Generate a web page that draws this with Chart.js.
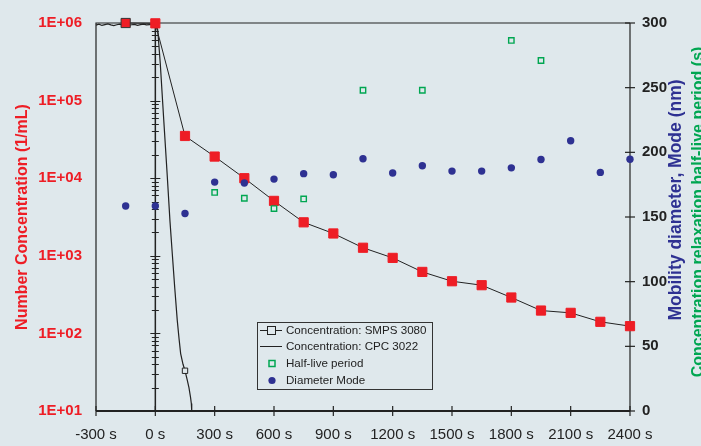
<!DOCTYPE html>
<html>
<head>
<meta charset="utf-8">
<script src="https://cdn.jsdelivr.net/npm/chart.js@4.4.0/dist/chart.umd.min.js"></script>
<style>
  html, body { margin: 0; padding: 0; background: #dfe8ec; overflow: hidden; }
  #chart { display: block; }
</style>
</head>
<body>
<canvas id="chart" width="701" height="446"></canvas>
<script>
// SMPS 3080 samples (s, 1/mL)
var smpsTime = [-150, 0, 150, 300, 450, 600, 750, 900, 1050, 1200, 1350, 1500, 1650, 1800, 1950, 2100, 2250, 2400];
var smpsConc = [1000000, 990000, 35000, 19000, 10000, 5100, 2700, 1940, 1270, 940, 620, 470, 418, 290, 197, 184, 141, 124];

// single SMPS reading inside the CPC decay
var smpsLowTime = [150];
var smpsLowConc = [33];

// CPC 3022 trace (s, 1/mL)
var cpcTime = [-300, -285, -270, -255, -240, -225, -210, -195, -180, -165, -150, -135, -120, -105, -90, -75, -60, -45, -30, -15, 0,
               6, 12, 25, 43, 60, 74, 86, 98, 111, 120, 128, 140, 150, 160, 170, 178, 182, 184];
var cpcConc = [940000, 965000, 930000, 955000, 975000, 945000, 925000, 950000, 968000, 940000, 958000, 930000, 950000, 962000, 935000, 952000, 966000, 945000, 955000, 962000, 985000,
               900000, 820000, 300000, 54000, 11000, 2800, 1040, 390, 146, 85, 55, 40, 33, 26, 20, 15, 12.5, 10];

// half-live period (s)
var halfLiveTime = [300, 450, 600, 750, 1050, 1350, 1800, 1950];
var halfLive = [169, 164.5, 156.5, 164, 248, 248, 286.5, 271];

// diameter mode (nm)
var modeTime = [-150, 0, 150, 300, 450, 600, 750, 900, 1050, 1200, 1350, 1500, 1650, 1800, 1950, 2100, 2250, 2400];
var diameterMode = [158.5, 158.5, 152.7, 177, 176.3, 179.3, 183.5, 182.7, 195, 184, 189.6, 185.5, 185.5, 188, 194.5, 209, 184.5, 194.7];

var xTicks = [-300, 0, 300, 600, 900, 1200, 1500, 1800, 2100, 2400];
var concTicks = [10, 100, 1000, 10000, 100000, 1000000];
var rightTicks = [0, 50, 100, 150, 200, 250, 300];

var RED = '#ee1d25';
var NAVY = '#2e3192';
var GREEN = '#00a651';
var INK = '#222222';
var BG = '#dfe8ec';
var FONT = "'Liberation Sans', Arial, sans-serif";

function pts(xs, ys) {
    return xs.map(function (x, i) { return { x: x, y: ys[i] }; });
}

function sciLabel(v) {
    var e = Math.round(Math.log10(v));
    return '1E+' + (e < 10 ? '0' : '') + e;
}

function rotatedText(ctx, text, x, y, size, color) {
    ctx.save();
    ctx.font = 'bold ' + size + 'px ' + FONT;
    ctx.textAlign = 'center';
    ctx.textBaseline = 'middle';
    ctx.fillStyle = color;
    ctx.translate(x, y);
    ctx.rotate(-Math.PI / 2);
    ctx.fillText(text, 0, 0);
    ctx.restore();
}

// frame, crossing tick marks and the log axis that sits at t = 0
var axesPlugin = {
    id: 'axesPlugin',
    beforeDatasetsDraw: function (chart) {
        var ctx = chart.ctx;
        var a = chart.chartArea;
        var sx = chart.scales.x, sy = chart.scales.y, sr = chart.scales.y2;
        ctx.save();
        ctx.strokeStyle = INK;

        ctx.lineWidth = 1.2;
        ctx.beginPath();
        ctx.moveTo(a.left, a.bottom);
        ctx.lineTo(a.left, a.top);
        ctx.lineTo(a.right, a.top);
        ctx.stroke();

        // x axis
        ctx.lineWidth = 2;
        ctx.beginPath();
        ctx.moveTo(a.left, a.bottom);
        ctx.lineTo(a.right, a.bottom);
        ctx.stroke();
        ctx.lineWidth = 1.2;
        xTicks.forEach(function (t) {
            var px = sx.getPixelForValue(t);
            ctx.beginPath();
            ctx.moveTo(px, a.bottom - 5);
            ctx.lineTo(px, a.bottom + 5);
            ctx.stroke();
        });

        // right axis
        ctx.beginPath();
        ctx.moveTo(a.right, a.top);
        ctx.lineTo(a.right, a.bottom);
        ctx.stroke();
        rightTicks.forEach(function (v) {
            var py = sr.getPixelForValue(v);
            ctx.beginPath();
            ctx.moveTo(a.right - 5, py);
            ctx.lineTo(a.right + 5, py);
            ctx.stroke();
        });

        // log axis at t = 0
        var x0 = sx.getPixelForValue(0);
        ctx.lineWidth = 1.5;
        ctx.beginPath();
        ctx.moveTo(x0, a.top);
        ctx.lineTo(x0, a.bottom);
        ctx.stroke();
        ctx.lineWidth = 1;
        for (var d = 10; d < 1000000; d *= 10) {
            for (var m = 1; m < 10; m++) {
                var py = Math.round(sy.getPixelForValue(d * m)) + 0.5;
                var len = m === 1 ? 5 : 3.5;
                ctx.beginPath();
                ctx.moveTo(x0 - len, py);
                ctx.lineTo(x0 + len, py);
                ctx.stroke();
            }
        }
        ctx.restore();
    },
    afterDraw: function (chart) {
        var ctx = chart.ctx;

        // right-hand titles
        rotatedText(ctx, 'Mobility diameter, Mode (nm)', 676, 200, 17.5, NAVY);
        rotatedText(ctx, 'Concentration relaxation half-live period (s)', 699, 212, 16, GREEN);

        // legend box
        ctx.save();
        var bx = 257, by = 322, bw = 175, bh = 67;
        ctx.strokeStyle = '#333';
        ctx.lineWidth = 1;
        ctx.strokeRect(bx + 0.5, by + 0.5, bw, bh);
        ctx.font = '11.6px ' + FONT;
        ctx.fillStyle = INK;
        ctx.textAlign = 'left';
        ctx.textBaseline = 'middle';
        var rows = [330.5, 346.5, 363.5, 380.5];
        var names = ['Concentration: SMPS 3080', 'Concentration: CPC 3022', 'Half-live period', 'Diameter Mode'];
        names.forEach(function (n, i) { ctx.fillText(n, 286, rows[i]); });

        ctx.strokeStyle = INK;
        ctx.beginPath();
        ctx.moveTo(260, rows[0]); ctx.lineTo(282, rows[0]);
        ctx.moveTo(260, rows[1]); ctx.lineTo(282, rows[1]);
        ctx.stroke();
        ctx.fillStyle = BG;
        ctx.fillRect(267.5, rows[0] - 4, 8, 8);
        ctx.strokeRect(267.5, rows[0] - 4, 8, 8);

        ctx.strokeStyle = GREEN;
        ctx.lineWidth = 1.5;
        ctx.strokeRect(269, rows[2] - 3, 6, 6);

        ctx.fillStyle = NAVY;
        ctx.beginPath();
        ctx.arc(272, rows[3], 3.6, 0, Math.PI * 2);
        ctx.fill();
        ctx.restore();
    }
};

var ctx = document.getElementById('chart').getContext('2d');
var chart = new Chart(ctx, {
    type: 'line',
    data: {
        datasets: [{
            label: 'Diameter Mode',
            data: pts(modeTime, diameterMode),
            yAxisID: 'y2',
            showLine: false,
            pointStyle: 'circle',
            pointRadius: 3.7,
            pointBackgroundColor: NAVY,
            pointBorderColor: NAVY,
            pointBorderWidth: 0,
            order: 0
        }, {
            label: 'Half-live period',
            data: pts(halfLiveTime, halfLive),
            yAxisID: 'y2',
            showLine: false,
            pointStyle: 'rect',
            pointRadius: 3.8,
            pointBackgroundColor: 'rgba(0,0,0,0)',
            pointBorderColor: GREEN,
            pointBorderWidth: 1.4,
            order: 1
        }, {
            label: 'Concentration: SMPS 3080',
            data: pts(smpsTime, smpsConc),
            yAxisID: 'y',
            borderColor: INK,
            borderWidth: 1,
            pointStyle: 'rect',
            pointRadius: 6.5,
            pointBackgroundColor: RED,
            pointBorderColor: smpsTime.map(function (t) { return t < 0 ? '#333' : RED; }),
            pointBorderWidth: 1,
            order: 2
        }, {
            label: 'SMPS low',
            data: pts(smpsLowTime, smpsLowConc),
            yAxisID: 'y',
            showLine: false,
            pointStyle: 'rect',
            pointRadius: 3.8,
            pointBackgroundColor: BG,
            pointBorderColor: INK,
            pointBorderWidth: 1,
            order: 3
        }, {
            label: 'Concentration: CPC 3022',
            data: pts(cpcTime, cpcConc),
            yAxisID: 'y',
            borderColor: INK,
            borderWidth: 1.2,
            pointRadius: 0,
            tension: 0,
            order: 4
        }]
    },
    options: {
        responsive: false,
        animation: false,
        maintainAspectRatio: false,
        layout: { padding: { top: 21, left: 0, right: 0, bottom: 0 } },
        datasets: { line: { clip: 10 } },
        plugins: {
            legend: { display: false },
            tooltip: { enabled: false }
        },
        scales: {
            x: {
                type: 'linear',
                min: -300,
                max: 2400,
                afterBuildTicks: function (s) { s.ticks = xTicks.map(function (v) { return { value: v }; }); },
                afterFit: function (s) { s.height = 35; },
                grid: { display: false, drawTicks: false },
                border: { display: false },
                ticks: {
                    padding: 15,
                    color: INK,
                    font: { family: FONT, size: 15 },
                    maxRotation: 0,
                    autoSkip: false,
                    callback: function (v) { return v + ' s'; }
                }
            },
            y: {
                type: 'logarithmic',
                position: 'left',
                min: 10,
                max: 1000000,
                afterBuildTicks: function (s) { s.ticks = concTicks.map(function (v) { return { value: v }; }); },
                afterFit: function (s) { s.width = 96; },
                grid: { display: false, drawTicks: false },
                border: { display: false },
                ticks: {
                    padding: 14,
                    color: RED,
                    font: { family: FONT, size: 15, weight: 'bold' },
                    callback: function (v) { return sciLabel(v); }
                },
                title: {
                    display: true,
                    text: 'Number Concentration (1/mL)',
                    color: RED,
                    font: { family: FONT, size: 16, weight: 'bold' },
                    padding: { top: 13, bottom: 0 }
                }
            },
            y2: {
                type: 'linear',
                position: 'right',
                min: 0,
                max: 300,
                afterBuildTicks: function (s) { s.ticks = rightTicks.map(function (v) { return { value: v }; }); },
                afterFit: function (s) { s.width = 71; },
                grid: { display: false, drawTicks: false },
                border: { display: false },
                ticks: {
                    padding: 12,
                    color: INK,
                    font: { family: FONT, size: 15, weight: 'bold' }
                }
            }
        }
    },
    plugins: [axesPlugin]
});
</script>
</body>
</html>
